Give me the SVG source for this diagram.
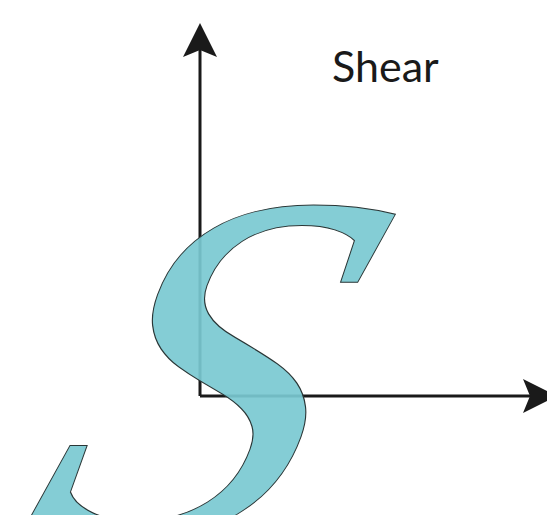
<svg xmlns="http://www.w3.org/2000/svg" width="547" height="515" viewBox="0 0 547 515">
<style>
.axis{stroke:#1a1a1a;stroke-width:3;fill:none}
.head{fill:#1a1a1a}
.letter{font-family:"Liberation Serif",serif;font-style:italic;fill:#79c9d1;fill-opacity:0.92;stroke:#2a3636;stroke-width:1}
.label{font-family:Lato,"Open Sans",sans-serif;fill:#1a1a1a}
</style>
<rect width="547" height="515" fill="#ffffff"/>
<g id="axes">
<path class="axis" d="M200,396 L200,45 M200,396 L535,396"/>
<path class="head" d="M200,23 L217,57 L200,50 L183,57 Z"/>
<path class="head" d="M557,396 L523,413 L530,396 L523,379 Z"/>
</g>
<g id="letter-s">
<text class="letter" x="0" y="0" font-size="500" text-anchor="middle" transform="translate(152,536) skewX(-20) scale(1.08,1)">S</text>
</g>
<g id="label-shear">
<text class="label" x="332" y="82" font-size="43">Shear</text>
</g>
</svg>
